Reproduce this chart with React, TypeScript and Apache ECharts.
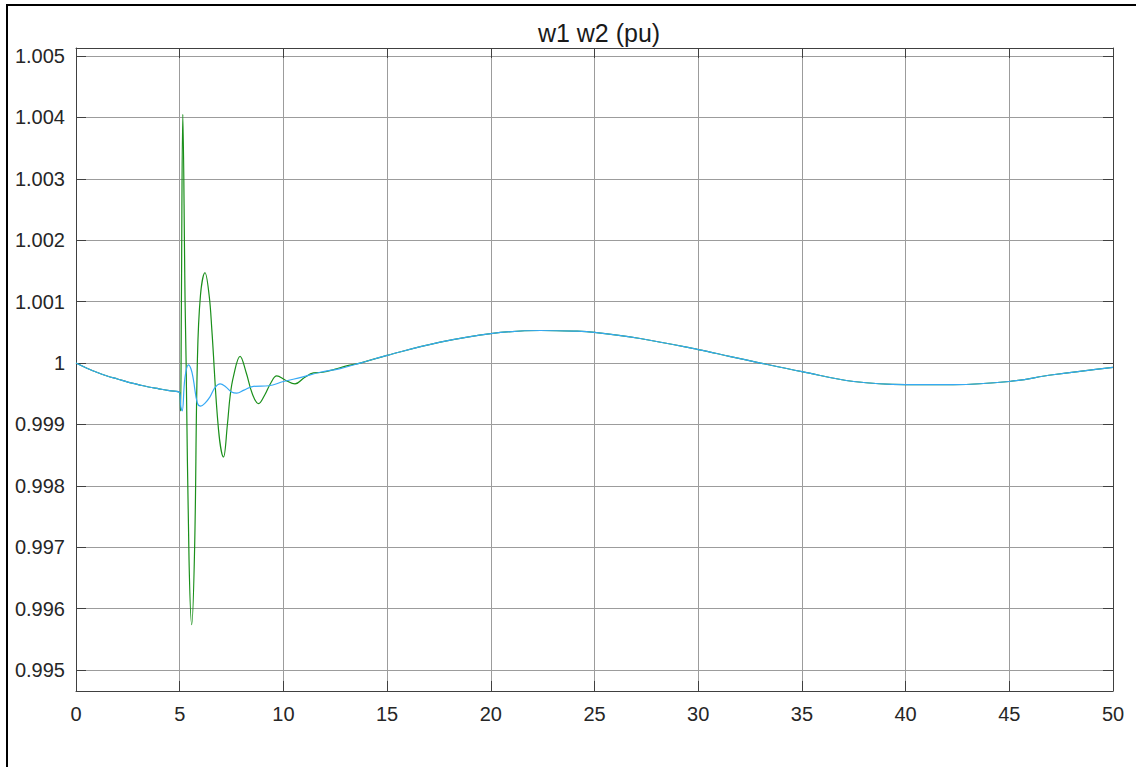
import React, { useEffect, useRef } from "react";
import * as echarts from "echarts";

// time (s) and speed (pu)
const tW1 = [0, 0.5, 1, 1.5, 2, 2.5, 3, 3.5, 4, 4.5, 5.0, 5.05, 5.12, 5.25, 5.42, 5.55, 5.66, 5.85, 6.01, 6.2, 6.46, 6.7, 6.95, 7.2, 7.5, 7.75, 8.1, 8.55, 9.3, 10, 10.9, 11.77, 12.74, 13.7, 15, 17.56, 20, 22.4, 24, 25, 27.2, 30, 31.5, 33, 35, 37.5, 40, 42.3, 45, 47.1, 50];
const w1 = [1.0, 0.99992, 0.99985, 0.99979, 0.99974, 0.99969, 0.99965, 0.99961, 0.99958, 0.99955, 0.99952, 0.9993, 0.99922, 0.99975, 0.99997, 0.9999, 0.99973, 0.99935, 0.9993, 0.99934, 0.99945, 0.9996, 0.99966, 0.99962, 0.99953, 0.99951, 0.99956, 0.99962, 0.99963, 0.9997, 0.99977, 0.99985, 0.99991, 1.0, 1.000125, 1.00034, 1.00048, 1.00053, 1.00052, 1.0005, 1.0004, 1.00022, 1.00011, 1.0, 0.99986, 0.9997, 0.99965, 0.99965, 0.9997, 0.99981, 0.99993];

const tW2 = [0, 0.5, 1, 1.5, 2, 2.5, 3, 3.5, 4, 4.5, 5.0, 5.04, 5.08, 5.15, 5.26, 5.31, 5.45, 5.58, 5.72, 5.85, 6.0, 6.22, 6.42, 6.55, 6.87, 7.11, 7.3, 7.43, 7.59, 7.91, 8.2, 8.5, 8.8, 9.1, 9.4, 9.68, 10.1, 10.56, 11.0, 11.45, 11.9, 12.5, 13.0, 13.7, 15, 17.56, 20, 22.4, 24, 25, 27.2, 30, 31.5, 33, 35, 37.5, 40, 42.3, 45, 47.1, 50];
const w2 = [1.0, 0.99992, 0.99985, 0.99979, 0.99974, 0.99969, 0.99965, 0.99961, 0.99958, 0.99955, 0.99952, 0.99922, 1.0009, 1.00405, 1.001, 1.0, 0.9968, 0.99574, 0.997, 1.0, 1.0011, 1.00147, 1.0011, 1.00054, 0.99892, 0.99847, 0.999, 0.99946, 0.99978, 1.00011, 0.99985, 0.9995, 0.99934, 0.99948, 0.99968, 0.99979, 0.99972, 0.99966, 0.99976, 0.99984, 0.99985, 0.9999, 0.99995, 1.0, 1.000125, 1.00034, 1.00048, 1.00053, 1.00052, 1.0005, 1.0004, 1.00022, 1.00011, 1.0, 0.99986, 0.9997, 0.99965, 0.99965, 0.9997, 0.99981, 0.99993];

const xTickValues = [0, 5, 10, 15, 20, 25, 30, 35, 40, 45, 50];
const yMin = 0.99466;
const yMax = 1.00513;
const titleText = "w1 w2 (pu)";

const FONT = "'Liberation Sans', Arial, Helvetica, sans-serif";
const BOX = "#404040";
const GRID = "#9c9c9c";

export default function App() {
  const ref = useRef<HTMLDivElement>(null);
  useEffect(() => {
    if (!ref.current) return;
    const chart = echarts.init(ref.current, undefined, { renderer: "svg" });
    const d1 = tW1.map((t, i) => [t, w1[i]]);
    const d2 = tW2.map((t, i) => [t, w2[i]]);
    const xCommon = {
      type: "value" as const,
      min: xTickValues[0],
      max: xTickValues[xTickValues.length - 1],
      interval: 5,
      axisLine: { show: true, onZero: false, lineStyle: { color: BOX, width: 1 } },
      axisTick: { show: true, inside: true, length: 10, lineStyle: { color: BOX, width: 1 } },
    };
    const yCommon = {
      type: "value" as const,
      min: yMin,
      max: yMax,
      splitNumber: 10,
      axisLine: { show: true, onZero: false, lineStyle: { color: BOX, width: 1 } },
      axisTick: { show: true, inside: true, length: 10, lineStyle: { color: BOX, width: 1 } },
    };
    chart.setOption({
      animation: false,
      backgroundColor: "#ffffff",
      title: {
        text: titleText,
        left: 594,
        top: 15,
        textAlign: "center",
        textStyle: { fontFamily: FONT, fontSize: 25, fontWeight: "normal", color: "#1a1a1a" },
      },
      grid: { left: 76, right: 23, top: 48, bottom: 76, containLabel: false },
      xAxis: [
        {
          ...xCommon,
          position: "bottom",
          axisLabel: { show: true, margin: 13, fontFamily: FONT, fontSize: 20, color: "#262626" },
          splitLine: { show: true, lineStyle: { color: GRID, width: 1 } },
        },
        {
          ...xCommon,
          position: "top",
          axisLabel: { show: false },
          splitLine: { show: false },
        },
      ],
      yAxis: [
        {
          ...yCommon,
          position: "left",
          axisLabel: {
            show: true,
            margin: 11,
            fontFamily: FONT,
            fontSize: 20,
            color: "#262626",
            showMinLabel: false,
            showMaxLabel: false,
          },
          splitLine: { show: true, lineStyle: { color: GRID, width: 1 } },
        },
        {
          ...yCommon,
          position: "right",
          axisLabel: { show: false },
          splitLine: { show: false },
        },
      ],
      series: [
        {
          name: "w2",
          type: "line",
          data: d2,
          showSymbol: false,
          smooth: 0.4,
          lineStyle: { color: "#1a8f1a", width: 1.2 },
          itemStyle: { color: "#1a8f1a" },
        },
        {
          name: "w1",
          type: "line",
          data: d1,
          showSymbol: false,
          smooth: 0.4,
          lineStyle: { color: "#36a9f5", width: 1.2 },
          itemStyle: { color: "#36a9f5" },
        },
      ],
      graphic: [
        { type: "rect", shape: { x: 6, y: 4, width: 1130, height: 2 }, style: { fill: "#000" }, silent: true },
        { type: "rect", shape: { x: 6, y: 4, width: 2, height: 763 }, style: { fill: "#000" }, silent: true },
      ],
    });
    return () => chart.dispose();
  }, []);
  return (
    <div
      ref={ref}
      style={{ position: "absolute", left: 0, top: 0, width: 1136, height: 767, background: "#fff" }}
    />
  );
}
